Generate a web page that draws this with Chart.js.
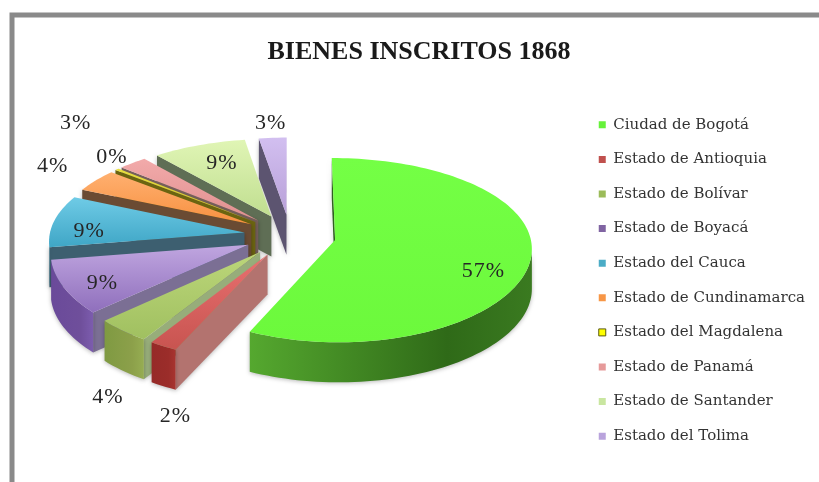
<!DOCTYPE html>
<html>
<head>
<meta charset="utf-8">
<style>
html,body{margin:0;padding:0;background:#fff;}
#wrap{width:819px;height:482px;}
canvas{filter:blur(0.55px);}
</style>
<script src="https://cdn.jsdelivr.net/npm/chart.js"></script>
</head>
<body>
<div id="wrap"><canvas id="pie"></canvas></div>
<script>
var titleText = "BIENES INSCRITOS 1868";
var estados = ["Ciudad de Bogotá","Estado de Antioquia","Estado de Bolívar","Estado de Boyacá","Estado del Cauca","Estado de Cundinamarca","Estado del Magdalena","Estado de Panamá","Estado de Santander","Estado del Tolima"];
var porcentajes = [56.8,2.1,4.1,9.3,9.3,4.2,0.4,2.6,8.5,2.5];

// colours: legend swatch / top light / top dark / rim from / rim to / radial wall
var swatch  = ["#66f23a","#c0504d","#9bbb59","#8064a2","#4bacc6","#f79646","#ffff00","#e69a9a","#c9e6a0","#b9a3dc"];
var topHi   = ["#74ff45","#e87070","#bcd67a","#c0a6e0","#6fcbe6","#ffb070","#e8e040","#f2aaaa","#e0f5b5","#d2bff0"];
var topLo   = ["#6cf93c","#c85450","#a0c060","#8f6fbc","#3fa6c6","#f79040","#c8b820","#e09090","#c0de90","#b8a0d8"];
var rimA    = ["#55a82f","#962a28","#7f9a42","#6a4a9a","#3a7f95","#6a4b33","#5a5a10","#7a5a5a","#5f6e55","#5c5470"];
var rimMid  = ["#2f6a18","#9b2d2a","#8ca04a","#6f4f9b","#3a7f95","#6a4b33","#5a5a10","#7a5a5a","#5f6e55","#5c5470"];
var rimB    = ["#3a7a20","#a83430","#96ad52","#7c5cae","#3a7f95","#6a4b33","#5a5a10","#7a5a5a","#5f6e55","#5c5470"];
var radial  = ["#2f5f20","#b3736f","#97ad7a","#7b6f94","#3d5f70","#6a4b33","#6b6410","#77605c","#5f6e55","#5c5470"];
// nudge of each % text from the middle of the slice's rim
var labelNudge = [[-47,11],[12,70],[-15,66],[39,-4],[35,10],[-43,-14],[-5,-12],[-57,-40],[23,18],[-2,-15]];

var CX = 290, CY = 235.4, RAD = 195, EXPLODE = 46;
var SQUASH = 90, PERSP_Y = 0.11, PERSP_X = 0.08, DEPTH = 40;
var serif = "'Liberation Serif', serif";

function project(u, v) {
  return {
    x: CX + RAD * u / (1 - PERSP_X * v),
    y: CY + SQUASH * v / (1 - PERSP_Y * v)
  };
}

function fillQuad(ctx, p, q, color) {
  ctx.beginPath();
  ctx.moveTo(p.x, p.y);
  ctx.lineTo(q.x, q.y);
  ctx.lineTo(q.x, q.y + DEPTH);
  ctx.lineTo(p.x, p.y + DEPTH);
  ctx.closePath();
  ctx.fillStyle = color;
  ctx.fill();
}

function drawSlice(ctx, el, i) {
  var off = el.options.offset / el.outerRadius;
  var mid = (el.startAngle + el.endAngle) / 2;
  var ox = Math.cos(mid) * off, oy = Math.sin(mid) * off;
  var apex = project(ox, oy);
  var rim = [];
  var steps = Math.max(2, Math.ceil((el.endAngle - el.startAngle) / 0.03));
  for (var s = 0; s <= steps; s++) {
    var a = el.startAngle + (el.endAngle - el.startAngle) * s / steps;
    rim.push(project(ox + Math.cos(a), oy + Math.sin(a)));
  }
  var last = rim[rim.length - 1];

  ctx.shadowColor = "rgba(0,0,0,0.28)";
  ctx.shadowBlur = 4;
  ctx.shadowOffsetY = 1;

  // walls: only the edges running leftwards face the viewer
  if (rim[0].x < apex.x) fillQuad(ctx, apex, rim[0], radial[i]);
  if (apex.x < last.x) fillQuad(ctx, last, apex, radial[i]);

  var run = rim.filter(function (p, k) {
    return (k < rim.length - 1 && rim[k + 1].x < p.x) || (k > 0 && p.x < rim[k - 1].x);
  });
  if (run.length > 1) {
    var g = ctx.createLinearGradient(run[run.length - 1].x, 0, run[0].x, 0);
    g.addColorStop(0, rimA[i]);
    g.addColorStop(0.7, rimMid[i]);
    g.addColorStop(1, rimB[i]);
    ctx.beginPath();
    run.forEach(function (p) { ctx.lineTo(p.x, p.y); });
    run.slice().reverse().forEach(function (p) { ctx.lineTo(p.x, p.y + DEPTH); });
    ctx.closePath();
    ctx.fillStyle = g;
    ctx.fill();
  }
  ctx.shadowColor = "transparent";

  // top face
  var ys = rim.map(function (p) { return p.y; }).concat(apex.y);
  var t = ctx.createLinearGradient(0, Math.min.apply(null, ys), 0, Math.max.apply(null, ys));
  t.addColorStop(0, topHi[i]);
  t.addColorStop(1, topLo[i]);
  ctx.beginPath();
  ctx.moveTo(apex.x, apex.y);
  rim.forEach(function (p) { ctx.lineTo(p.x, p.y); });
  ctx.closePath();
  ctx.fillStyle = t;
  ctx.fill();
}

var pie3d = {
  id: "pie3d",
  beforeDraw: function (chart) {
    // grey frame of the sheet, open at the bottom
    var ctx = chart.ctx;
    ctx.save();
    ctx.strokeStyle = "#8a8a8a";
    ctx.lineWidth = 5;
    ctx.beginPath();
    ctx.moveTo(12, 482);
    ctx.lineTo(12, 15);
    ctx.lineTo(819, 15);
    ctx.stroke();
    ctx.restore();
  },
  beforeDatasetsDraw: function (chart) {
    var ctx = chart.ctx;
    var arcs = chart.getDatasetMeta(0).data;
    var order = arcs.map(function (el, i) { return i; }).sort(function (a, b) {
      return Math.sin((arcs[a].startAngle + arcs[a].endAngle) / 2) - Math.sin((arcs[b].startAngle + arcs[b].endAngle) / 2);
    });
    ctx.save();
    order.forEach(function (i) { drawSlice(ctx, arcs[i], i); });
    // % labels
    ctx.font = "22px " + serif;
    ctx.fillStyle = "#262626";
    ctx.textAlign = "center";
    ctx.textBaseline = "middle";
    ctx.letterSpacing = "1px";
    arcs.forEach(function (el, i) {
      var mid = (el.startAngle + el.endAngle) / 2;
      var r = 1 + el.options.offset / el.outerRadius;
      var p = project(Math.cos(mid) * r, Math.sin(mid) * r);
      ctx.fillText(Math.round(porcentajes[i]) + "%", p.x + labelNudge[i][0], p.y + labelNudge[i][1]);
    });
    ctx.restore();
    return false; // library arcs replaced by the tilted ones above
  }
};

new Chart(document.getElementById("pie"), {
  type: "pie",
  data: {
    labels: estados,
    datasets: [{
      data: porcentajes,
      backgroundColor: swatch,
      borderColor: swatch.map(function (c, i) { return i === 6 ? "#5a5a10" : c; }),
      borderWidth: swatch.map(function (c, i) { return i === 6 ? 1 : 0; }),
      offset: EXPLODE,
      radius: RAD
    }]
  },
  plugins: [pie3d],
  options: {
    responsive: true,
    maintainAspectRatio: false,
    animation: false,
    layout: { padding: { left: 23, top: 37, right: 4, bottom: -42 } },
    plugins: {
      title: {
        display: true,
        text: titleText,
        color: "#1a1a1a",
        font: { family: serif, size: 26, weight: "bold" },
        padding: { top: 0, bottom: 10 }
      },
      legend: {
        position: "right",
        labels: {
          color: "#333",
          boxWidth: 7,
          boxHeight: 7,
          padding: 19.6,
          font: { family: "'DejaVu Serif', serif", size: 15 }
        }
      },
      tooltip: { enabled: false }
    }
  }
});
</script>
</body>
</html>
